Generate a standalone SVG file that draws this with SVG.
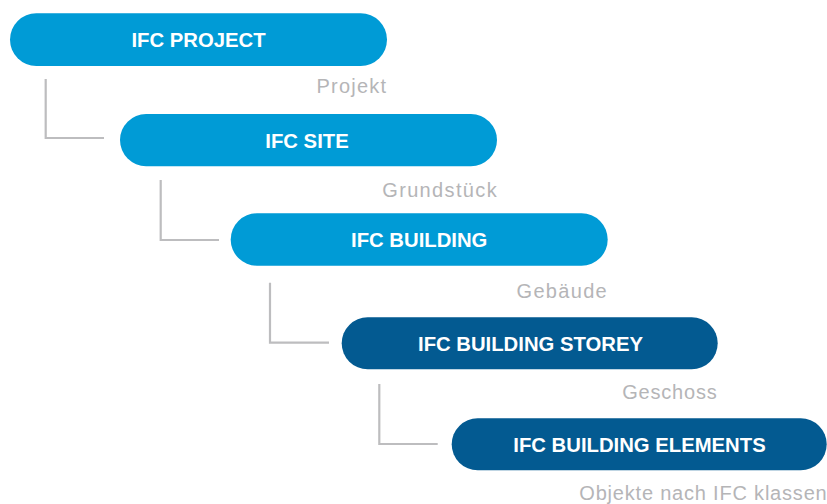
<svg xmlns="http://www.w3.org/2000/svg" width="827" height="504" viewBox="0 0 827 504">
<style>
.pill-l{fill:#009bd6}
.pill-d{fill:#035a91}
.t{font-family:"Liberation Sans",Arial,sans-serif;font-weight:bold;font-size:20.3px;fill:#ffffff;text-anchor:middle}
.lbl{font-family:"Liberation Sans",Arial,sans-serif;font-size:20px;fill:#b5b5b7;text-anchor:end;letter-spacing:1px}
.c{fill:none;stroke:#bdbdbf;stroke-width:2.2}
</style>
<rect width="827" height="504" fill="#ffffff"/>
<g id="connectors">
<path class="c" d="M45.7 79V138H104"/>
<path class="c" d="M160.7 180V240H219"/>
<path class="c" d="M270 282.7V342.7H329"/>
<path class="c" d="M379.3 384V444H437.7"/>
</g>
<g id="ifc-project">
<rect class="pill-l" x="10" y="13.3" width="377" height="52.6" rx="26.3"/>
<text class="t" x="198.5" y="47">IFC PROJECT</text>
<text class="lbl" x="387.2" y="93" style="letter-spacing:1.2px">Projekt</text>
</g>
<g id="ifc-site">
<rect class="pill-l" x="120" y="114" width="377" height="52.2" rx="26.1"/>
<text class="t" x="307" y="148.3">IFC SITE</text>
<text class="lbl" x="498" y="196.7" style="letter-spacing:1.35px">Grundstück</text>
</g>
<g id="ifc-building">
<rect class="pill-l" x="230.7" y="213.3" width="377" height="52.4" rx="26.2"/>
<text class="t" x="419.2" y="246.7">IFC BUILDING</text>
<text class="lbl" x="608" y="297.7" style="letter-spacing:1.3px">Gebäude</text>
</g>
<g id="ifc-building-storey">
<rect class="pill-d" x="341.7" y="317.3" width="376" height="52" rx="26"/>
<text class="t" x="530.5" y="350.7">IFC BUILDING STOREY</text>
<text class="lbl" x="717.5" y="399" style="letter-spacing:0.8px">Geschoss</text>
</g>
<g id="ifc-building-elements">
<rect class="pill-d" x="451.7" y="418.3" width="375" height="52" rx="26"/>
<text class="t" x="639.5" y="451.7">IFC BUILDING ELEMENTS</text>
<text class="lbl" x="827.5" y="499.5" style="letter-spacing:0.8px">Objekte nach IFC klassen</text>
</g>
</svg>
